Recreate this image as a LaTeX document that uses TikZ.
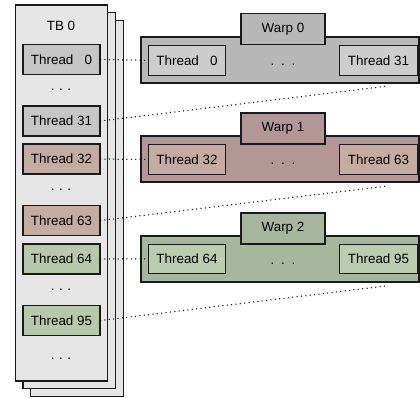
\documentclass[tikz,border=0pt]{standalone}
\usepackage{fontspec}
\setmainfont{Liberation Sans}
\definecolor{tbbg}{HTML}{E6E6E6}
\definecolor{grayth}{HTML}{C6C6C6}
\definecolor{graywarp}{HTML}{B8B8B8}
\definecolor{graywth}{HTML}{CDCDCD}
\definecolor{roseth}{HTML}{C3ADA3}
\definecolor{rosewarp}{HTML}{B39797}
\definecolor{rosewth}{HTML}{C4ACA4}
\definecolor{greenth}{HTML}{B7C9AA}
\definecolor{greenwarp}{HTML}{A7B79E}
\definecolor{greenwth}{HTML}{BBCCB0}
\definecolor{edge}{HTML}{1A1A1A}
\tikzset{
  box/.style={draw=edge, line width=1.1pt, rectangle, inner sep=0pt, font=\fontsize{13.4}{15}\selectfont},
  tbsheet/.style={box, fill=tbbg, minimum width=92.5pt, minimum height=376pt},
  tbthread/.style={box, minimum width=77pt, minimum height=30pt},
  wthread/.style={box, minimum width=77.5pt, minimum height=29.5pt},
  warpbox/.style={box, minimum width=278pt, minimum height=46pt},
  warptab/.style={box, minimum width=84pt, minimum height=31pt},
  lbl/.style={inner sep=0pt, font=\fontsize{13.4}{15}\selectfont},
  dotsn/.style={inner sep=0pt, font=\fontsize{13.4}{15}\selectfont},
  link/.style={draw=edge, line width=1.5pt, line cap=round, dash pattern=on 0pt off 4.4pt}
}
\begin{document}
\begin{tikzpicture}[x=1pt, y=-1pt]
\useasboundingbox (0,0) rectangle (420,397);
% TB stack
\node[tbsheet] (tb2) at (77,208.5) {};
\node[tbsheet] (tb1) at (69.2,200.8) {};
\node[tbsheet] (tb0) at (61.5,193) {};
\node[lbl] (tblabel) at (61,26) {TB 0};
\node[tbthread, fill=grayth] (t0) at (61.5,59.5) {Thread \phantom{3}0};
\node[dotsn] (d1) at (61,90) {.\,\,.\,\,.};
\node[tbthread, fill=grayth] (t31) at (61.5,121) {Thread 31};
\node[tbthread, fill=roseth] (t32) at (61.5,159) {Thread 32};
\node[dotsn] (d2) at (61,190) {.\,\,.\,\,.};
\node[tbthread, fill=roseth] (t63) at (61.5,220.5) {Thread 63};
\node[tbthread, fill=greenth] (t64) at (61.5,259) {Thread 64};
\node[dotsn] (d3) at (61,290) {.\,\,.\,\,.};
\node[tbthread, fill=greenth] (t95) at (61.5,320.5) {Thread 95};
\node[dotsn] (d4) at (61,358.5) {.\,\,.\,\,.};
% Warp 0
\node[warpbox, fill=graywarp] (w0) at (280,60) {};
\node[warptab, fill=graywarp] (w0tab) at (283,28.8) {Warp 0};
\node[wthread, fill=graywth] (w0a) at (187,60.3) {Thread \phantom{3}0};
\node[dotsn] (w0d) at (283,64.5) {.\,\,\,.\,\,\,.};
\node[wthread, fill=graywth] (w0b) at (378.5,60.3) {Thread 31};
% Warp 1
\node[warpbox, fill=rosewarp] (w1) at (280,159) {};
\node[warptab, fill=rosewarp] (w1tab) at (283,128.5) {Warp 1};
\node[wthread, fill=rosewth] (w1a) at (187,159.5) {Thread 32};
\node[dotsn] (w1d) at (283,164) {.\,\,\,.\,\,\,.};
\node[wthread, fill=rosewth] (w1b) at (378.5,159.5) {Thread 63};
% Warp 2
\node[warpbox, fill=greenwarp] (w2) at (280,259) {};
\node[warptab, fill=greenwarp] (w2tab) at (283,228.5) {Warp 2};
\node[wthread, fill=greenwth] (w2a) at (187,258.8) {Thread 64};
\node[dotsn] (w2d) at (283,264) {.\,\,\,.\,\,\,.};
\node[wthread, fill=greenwth] (w2b) at (378.5,258.8) {Thread 95};
% end points of diagonal links
\coordinate (e0) at (388,86);
\coordinate (e1) at (388,186);
\coordinate (e2) at (388,285.7);
% links
\draw[link] (t0.east) -- (w0a.west);
\draw[link] (t31.east) -- (e0);
\draw[link] (t32.east) -- (w1a.west);
\draw[link] (t63.east) -- (e1);
\draw[link] (t64.east) -- (w2a.west);
\draw[link] (t95.east) -- (e2);
\end{tikzpicture}
\end{document}
